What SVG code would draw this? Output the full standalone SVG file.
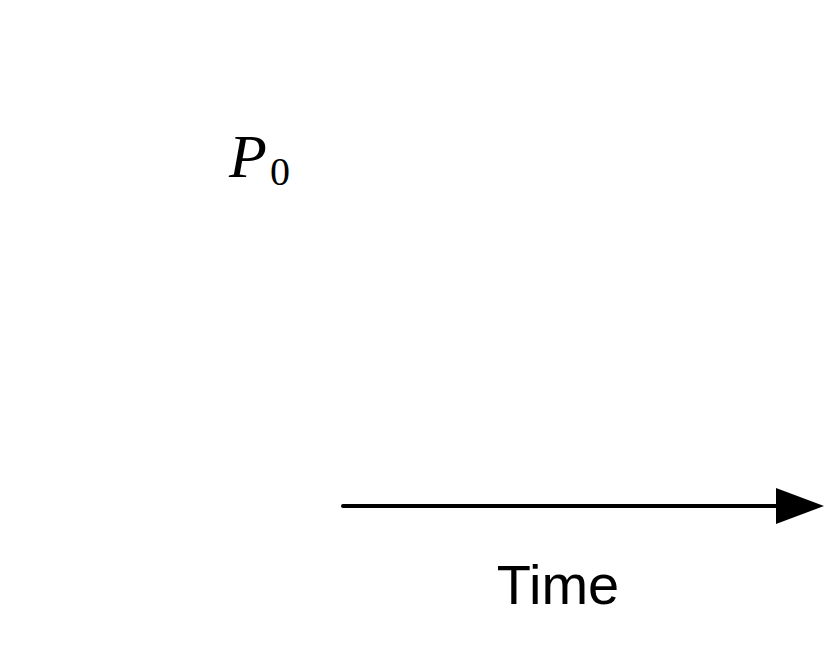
<svg xmlns="http://www.w3.org/2000/svg" width="830" height="647" viewBox="0 0 830 647">
<style>
.math{font-family:"Liberation Serif","Times New Roman",serif;fill:#000}
.lbl{font-family:"Liberation Sans",Arial,sans-serif;fill:#000}
</style>
<defs>
<marker id="ah" markerUnits="userSpaceOnUse" markerWidth="48" markerHeight="36" refX="0" refY="18" orient="auto">
<path d="M0,0 L48,18 L0,36 Z" fill="#000"/>
</marker>
</defs>
<rect width="830" height="647" fill="#fff"/>
<g id="p0">
<text class="math" x="229" y="177" font-size="62"><tspan font-style="italic">P</tspan><tspan font-size="40" dx="3" dy="8">0</tspan></text>
</g>
<g id="connectors">
<line x1="343" y1="506" x2="776" y2="506" stroke="#000" stroke-width="4" stroke-linecap="round" marker-end="url(#ah)"/>
</g>
<g id="time">
<text class="lbl" x="558" y="604" font-size="56" text-anchor="middle">Time</text>
</g>
</svg>
